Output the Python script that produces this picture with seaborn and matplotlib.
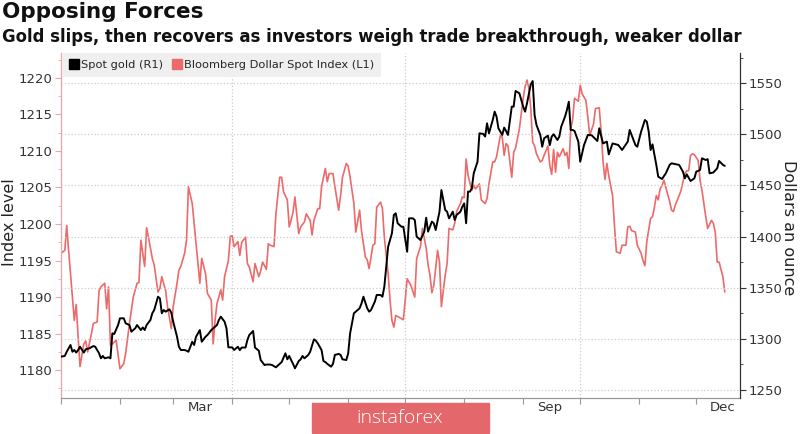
import matplotlib
matplotlib.use('Agg')
import matplotlib.pyplot as plt
from matplotlib.lines import Line2D
from matplotlib.patches import Rectangle
from matplotlib.ticker import MultipleLocator
import pandas as pd
import seaborn as sns

# dates are stored as days since 2019-01-01
start = pd.Timestamp('2019-01-01')

dollar_days = [0, 2, 3, 4, 5, 7, 8, 9, 10, 12, 13, 14, 16, 17, 19, 20, 21, 23, 24, 25,
               26, 27, 29, 31, 33, 34, 36, 38, 40, 41, 42, 44, 45, 46, 48, 49, 51, 52, 53, 55,
               56, 58, 59, 61, 62, 63, 65, 66, 67, 69, 70, 71, 73, 74, 76, 77, 79, 80, 81, 82,
               84, 85, 86, 88, 89, 90, 91, 93, 94, 95, 97, 98, 99, 101, 102, 104, 105, 106, 108, 109,
               110, 112, 113, 115, 116, 117, 119, 120, 122, 123, 125, 126, 128, 129, 131, 132, 133, 135, 136, 137,
               139, 140, 141, 143, 144, 146, 147, 148, 150, 151, 152, 154, 155, 157, 158, 160, 161, 162, 164, 165,
               166, 168, 169, 170, 172, 173, 174, 175, 176, 178, 180, 182, 184, 186, 187, 189, 190, 192, 193, 194,
               195, 196, 198, 199, 200, 202, 203, 204, 206, 207, 208, 210, 211, 212, 213, 214, 216, 217, 218, 220,
               221, 223, 224, 225, 227, 228, 229, 231, 232, 233, 234, 235, 237, 238, 239, 241, 242, 243, 244, 245,
               246, 247, 248, 249, 250, 252, 253, 254, 256, 257, 258, 259, 260, 261, 262, 264, 265, 266, 267, 268,
               269, 270, 272, 273, 274, 276, 277, 278, 280, 281, 283, 284, 285, 286, 287, 288, 290, 291, 292, 294,
               295, 297, 298, 299, 300, 302, 303, 305, 306, 307, 308, 310, 311, 312, 313, 314, 315, 316, 317, 318,
               320, 321, 322, 323, 325, 326, 328, 329, 330, 331, 332, 333, 335, 336, 337, 338, 339, 340, 342, 343,
               344, 345, 346, 348, 349]
dollar_idx = [1196.0, 1196.4, 1199.8, 1196.4, 1193.2, 1186.8, 1189.0, 1184.6, 1180.5, 1183.6,
              1184.0, 1182.5, 1185.0, 1186.4, 1186.6, 1190.9, 1191.4, 1191.9, 1188.4, 1191.4,
              1183.4, 1183.6, 1184.1, 1180.2, 1180.9, 1182.3, 1186.4, 1190.0, 1191.9, 1192.0,
              1197.8, 1194.2, 1199.5, 1198.2, 1195.3, 1194.4, 1190.7, 1191.2, 1192.8, 1190.9,
              1188.7, 1185.7, 1188.7, 1191.9, 1193.7, 1194.2, 1196.0, 1197.8, 1205.1, 1202.8,
              1200.1, 1197.3, 1191.9, 1195.3, 1193.2, 1190.5, 1189.6, 1183.6, 1186.8, 1189.1,
              1191.0, 1189.6, 1192.8, 1195.0, 1198.3, 1198.4, 1196.9, 1197.6, 1195.7, 1197.5,
              1198.2, 1194.6, 1194.1, 1192.1, 1194.6, 1192.8, 1193.6, 1194.8, 1193.8, 1197.3,
              1197.1, 1196.9, 1201.4, 1206.4, 1206.4, 1204.4, 1203.3, 1199.6, 1201.6, 1203.7,
              1198.7, 1199.6, 1200.3, 1201.4, 1200.5, 1198.5, 1200.5, 1202.1, 1202.1, 1205.1,
              1207.6, 1205.8, 1206.9, 1206.9, 1205.1, 1201.9, 1203.9, 1206.4, 1208.3, 1207.9,
              1206.4, 1202.8, 1198.9, 1201.9, 1199.1, 1195.5, 1195.1, 1193.9, 1197.1, 1197.3,
              1202.3, 1203.0, 1202.1, 1198.2, 1193.2, 1189.6, 1186.8, 1185.9, 1187.5, 1187.2,
              1186.9, 1192.5, 1191.6, 1190.0, 1195.3, 1196.9, 1199.4, 1196.7, 1194.4, 1193.0,
              1190.6, 1191.6, 1196.4, 1194.8, 1188.7, 1193.0, 1194.6, 1199.4, 1199.2, 1200.1,
              1201.7, 1202.8, 1203.7, 1203.6, 1208.9, 1206.7, 1204.6, 1205.3, 1204.8, 1205.5,
              1203.3, 1202.8, 1203.5, 1205.5, 1208.5, 1208.5, 1209.2, 1212.1, 1211.9, 1209.4,
              1211.0, 1210.7, 1206.4, 1209.8, 1210.4, 1213.0, 1215.1, 1217.2, 1218.8, 1219.7,
              1218.6, 1215.8, 1211.2, 1210.7, 1209.6, 1208.5, 1208.7, 1209.4, 1210.7, 1208.0,
              1206.8, 1210.2, 1207.1, 1209.8, 1209.2, 1210.3, 1209.4, 1209.8, 1207.6, 1213.0,
              1214.3, 1217.2, 1216.8, 1219.0, 1217.8, 1216.9, 1214.6, 1212.1, 1213.7, 1215.8,
              1215.9, 1212.6, 1208.5, 1206.1, 1208.3, 1206.6, 1203.9, 1199.8, 1196.2, 1196.0,
              1197.1, 1197.1, 1199.6, 1199.7, 1199.1, 1198.9, 1197.1, 1196.0, 1195.0, 1194.3,
              1197.6, 1200.8, 1201.0, 1202.3, 1203.9, 1203.3, 1204.8, 1205.3, 1206.0, 1205.0,
              1203.1, 1201.9, 1201.7, 1202.6, 1203.9, 1204.6, 1206.9, 1207.3, 1207.3, 1209.4,
              1209.6, 1209.5, 1208.7, 1206.0, 1204.6, 1202.8, 1201.0, 1199.4, 1200.5, 1200.1,
              1198.9, 1194.8, 1194.8, 1192.8, 1190.7]

gold_days = [0, 2, 3, 5, 6, 7, 8, 9, 10, 12, 13, 15, 17, 18, 20, 21, 22, 23, 25, 26,
             27, 28, 30, 31, 33, 34, 36, 37, 39, 40, 42, 43, 44, 45, 47, 48, 49, 51, 52, 53,
             54, 55, 57, 58, 59, 61, 62, 63, 65, 66, 67, 69, 70, 71, 73, 74, 76, 77, 78, 79,
             81, 82, 83, 84, 86, 87, 88, 90, 91, 93, 94, 95, 97, 98, 99, 101, 102, 104, 105, 107,
             108, 110, 111, 113, 115, 116, 118, 119, 120, 121, 122, 123, 125, 126, 127, 128, 130, 131, 133, 134,
             135, 137, 138, 139, 140, 142, 143, 144, 146, 147, 148, 150, 151, 152, 153, 154, 155, 157, 158, 159,
             161, 162, 163, 165, 166, 168, 169, 170, 171, 172, 174, 175, 176, 177, 179, 180, 182, 183, 185, 186,
             187, 189, 191, 192, 193, 195, 196, 197, 199, 200, 202, 203, 204, 206, 207, 208, 210, 211, 212, 213,
             214, 215, 216, 217, 219, 220, 222, 223, 224, 225, 227, 228, 229, 230, 232, 233, 234, 235, 237, 238,
             239, 241, 242, 243, 244, 245, 247, 248, 249, 250, 252, 253, 254, 256, 257, 258, 259, 261, 262, 263,
             265, 266, 267, 268, 269, 270, 272, 273, 275, 277, 279, 282, 283, 285, 287, 288, 290, 293, 295, 298,
             299, 300, 302, 303, 305, 307, 308, 309, 310, 311, 313, 314, 316, 318, 320, 321, 323, 325, 327, 328,
             329, 331, 333, 334, 336, 337, 339, 340, 341, 343, 345, 346, 348, 349]
gold_px = [1282.6, 1283.3, 1287.4, 1294.0, 1287.4, 1289.1, 1286.6, 1289.1, 1292.3, 1286.6,
           1289.8, 1290.8, 1293.0, 1292.3, 1285.9, 1281.0, 1283.3, 1281.0, 1282.0, 1281.0,
           1305.4, 1304.8, 1313.5, 1320.1, 1320.1, 1315.2, 1313.5, 1307.0, 1310.3, 1313.5,
           1308.6, 1311.2, 1308.6, 1313.5, 1318.4, 1325.0, 1328.2, 1341.2, 1339.6, 1325.0,
           1328.2, 1326.6, 1328.9, 1325.6, 1316.8, 1302.1, 1292.3, 1289.1, 1289.1, 1288.4,
           1287.4, 1297.2, 1294.0, 1302.1, 1308.6, 1297.2, 1302.1, 1303.8, 1306.1, 1308.6,
           1311.9, 1313.5, 1318.4, 1321.7, 1316.8, 1310.3, 1291.7, 1291.7, 1289.1, 1292.3,
           1289.0, 1291.5, 1291.5, 1298.9, 1303.8, 1307.7, 1291.5, 1288.4, 1279.3, 1274.4,
           1274.9, 1274.9, 1274.4, 1272.2, 1275.6, 1277.3, 1285.9, 1280.0, 1283.3, 1279.3,
           1275.6, 1271.2, 1278.3, 1280.0, 1283.3, 1281.0, 1284.3, 1287.4, 1299.5, 1298.2,
           1295.6, 1289.0, 1278.3, 1277.3, 1275.6, 1272.8, 1275.6, 1284.3, 1285.3, 1284.3,
           1280.0, 1279.3, 1285.9, 1305.4, 1315.2, 1325.0, 1326.6, 1329.9, 1334.7, 1341.2,
           1329.9, 1326.6, 1328.2, 1336.4, 1342.9, 1342.9, 1341.2, 1351.0, 1370.5, 1390.1,
           1403.2, 1421.1, 1422.7, 1413.0, 1409.6, 1409.6, 1385.2, 1417.8, 1417.8, 1416.2,
           1399.9, 1396.6, 1404.8, 1418.4, 1404.8, 1414.6, 1413.0, 1406.4, 1424.3, 1445.5,
           1426.0, 1424.3, 1417.8, 1424.3, 1416.2, 1421.1, 1424.3, 1429.2, 1432.4, 1413.0,
           1443.9, 1443.9, 1447.2, 1461.8, 1473.2, 1500.9, 1500.3, 1497.7, 1510.7, 1500.9,
           1513.9, 1522.1, 1517.2, 1505.8, 1499.3, 1506.5, 1503.2, 1499.3, 1527.0, 1527.0,
           1542.3, 1540.0, 1533.5, 1527.0, 1522.1, 1530.2, 1548.8, 1552.0, 1518.8, 1509.0,
           1499.3, 1487.8, 1496.0, 1498.6, 1489.4, 1497.7, 1500.0, 1494.4, 1497.7, 1507.4,
           1517.2, 1523.7, 1531.8, 1504.2, 1504.2, 1503.2, 1492.8, 1473.2, 1489.5, 1499.3,
           1499.0, 1493.4, 1505.8, 1491.0, 1492.8, 1480.3, 1491.0, 1489.5, 1484.6, 1492.8,
           1504.2, 1499.3, 1489.5, 1487.8, 1502.5, 1513.9, 1512.3, 1502.5, 1484.6, 1490.1,
           1470.0, 1458.5, 1456.3, 1461.8, 1470.0, 1471.6, 1470.8, 1470.0, 1463.4, 1456.9,
           1460.8, 1454.3, 1456.9, 1463.4, 1465.1, 1476.5, 1474.8, 1475.7, 1461.8, 1462.6,
           1466.7, 1473.9, 1470.1, 1469.0]

left_ticks = [1180, 1185, 1190, 1195, 1200, 1205, 1210, 1215, 1220]
right_ticks = [1250, 1300, 1350, 1400, 1450, 1500, 1550]
# the June label sits under the watermark in the original, so only these show
label_months = [3, 9, 12]
month_labels = ['Mar', 'Sep', 'Dec']

RED = '#ec6a6a'
PINK = '#f2a4a4'

sns.set_style('white')
plt.rcParams['font.family'] = ['DejaVu Sans']

dollar = pd.DataFrame({'date': start + pd.to_timedelta(dollar_days, unit='D'),
                       'value': dollar_idx})
gold = pd.DataFrame({'date': start + pd.to_timedelta(gold_days, unit='D'),
                     'value': gold_px})

fig = plt.figure(figsize=(8, 4.34), dpi=100)
ax = fig.add_axes([61 / 800, 1 - 398 / 434, 679 / 800, 345 / 434])
ax2 = ax.twinx()

sns.lineplot(data=dollar, x='date', y='value', ax=ax, color=RED, lw=1.2, legend=False)
sns.lineplot(data=gold, x='date', y='value', ax=ax2, color='black', lw=1.4, legend=False)

# x axis: month ticks, quarter gridlines, labels mid-month
ax.set_xlim(start, start + pd.Timedelta(days=357))
ax.set_xticks(pd.date_range('2019-01-01', '2019-12-01', freq='QS'))
ax.set_xticks(pd.date_range('2019-01-01', '2019-12-01', freq='MS'), minor=True)
ax.set_xticklabels([])
ax.tick_params(axis='x', which='both', bottom=True, length=4, color='#999999', width=0.8)
ax.grid(axis='x', which='major', ls=':', color='#cccccc', lw=0.9)
for m, lab in zip(label_months, month_labels):
    ax.text(pd.Timestamp(2019, m, 15), -0.01, lab, transform=ax.get_xaxis_transform(),
            ha='center', va='top', fontsize=9.5, color='#333333')

# left axis (dollar index)
ax.set_ylim(1176.2, 1223.4)
ax.set_yticks(left_ticks)
ax.yaxis.set_minor_locator(MultipleLocator(2.5))
ax.tick_params(axis='y', which='both', left=True, colors=PINK, labelcolor='#333333',
               labelsize=9.5, pad=2)
ax.tick_params(axis='y', which='major', length=4)
ax.tick_params(axis='y', which='minor', length=2)

# right axis (gold)
ax2.set_ylim(1242.2, 1579.4)
ax2.set_yticks(right_ticks)
ax2.yaxis.set_minor_locator(MultipleLocator(25))
ax2.tick_params(axis='y', which='both', right=True, colors='#333333', labelsize=9.5, pad=2)
ax2.tick_params(axis='y', which='major', length=4)
ax2.tick_params(axis='y', which='minor', length=2)
ax2.grid(axis='y', which='major', ls=':', color='#cccccc', lw=0.9)
ax2.set_axisbelow(True)

ax.set_xlabel('')
ax.set_ylabel('')
ax2.set_ylabel('')

for s in ['top', 'right']:
    ax.spines[s].set_visible(False)
for s in ['top', 'left', 'bottom']:
    ax2.spines[s].set_visible(False)
ax.spines['left'].set_color(PINK)
ax.spines['bottom'].set_color('#999999')
ax2.spines['right'].set_color('#333333')
for s in [ax.spines['left'], ax.spines['bottom'], ax2.spines['right']]:
    s.set_linewidth(0.9)

handles = [Line2D([], [], marker='s', ls='', color='black', markersize=6.5, label='Spot gold (R1)'),
           Line2D([], [], marker='s', ls='', color=RED, markersize=6.5,
                  label='Bloomberg Dollar Spot Index (L1)')]
leg = ax2.legend(handles=handles, loc='upper left', bbox_to_anchor=(0.003, 1.0), ncol=2,
                 frameon=True, fancybox=False, facecolor='#efefef', edgecolor='none',
                 framealpha=1, fontsize=8.2, handletextpad=0.15, columnspacing=0.9,
                 handlelength=0.8, borderaxespad=0.0, borderpad=0.6)

fig.text(10 / 800, 1 - 222 / 434, 'Index level', rotation=90, ha='center', va='center',
         fontsize=11.5, color='#222222')
fig.text(789 / 800, 1 - 228 / 434, 'Dollars an ounce', rotation=270, ha='center', va='center',
         fontsize=11.5, color='#222222')

fig.text(0.002, 1 - 2 / 434, 'Opposing Forces', fontsize=15.5, weight='bold', va='top',
         color='#111111')
fig.text(0.002, 1 - 28 / 434,
         'Gold slips, then recovers as investors weigh trade breakthrough, weaker dollar',
         fontsize=11.9, weight='bold', va='top', color='#111111')

# watermark strip at the bottom
fig.patches.append(Rectangle((311.7 / 800, 1 - 432.7 / 434), 177.3 / 800, 29.4 / 434,
                             transform=fig.transFigure, color='#e4686b', zorder=5))
fig.text(0.5, 1 - 418 / 434, 'instaforex', color='white', fontsize=14, ha='center',
         va='center', zorder=6, family=['Open Sans', 'DejaVu Sans'], weight='light')

fig.savefig('out.png', dpi=100)
